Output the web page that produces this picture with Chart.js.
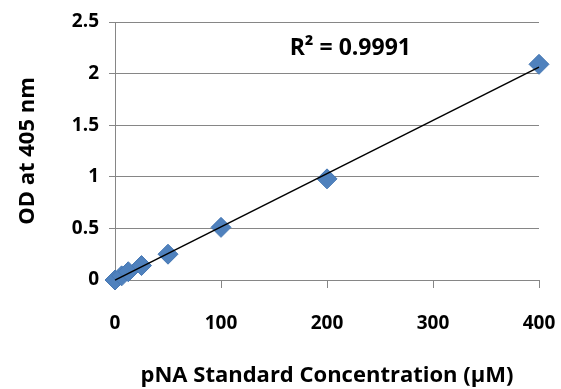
<!DOCTYPE html>
<html>
<head>
<meta charset="utf-8">
<script src="https://cdn.jsdelivr.net/npm/chart.js@4/dist/chart.umd.min.js"></script>
<style>
  html, body { margin: 0; padding: 0; background: #fff; }
  #wrap { width: 561px; height: 389px; }
</style>
</head>
<body>
<div id="wrap"><canvas id="std"></canvas></div>
<script>
// pNA standard curve
const concentrations = [0, 6.25, 12.5, 25, 50, 100, 200, 400];
const odValues = [0, 0.04, 0.08, 0.14, 0.25, 0.51, 0.98, 2.09];
const xTicks = [0, 100, 200, 300, 400];
const yTicks = [0, 0.5, 1, 1.5, 2, 2.5];
const rSquaredLabel = 'R² = 0.9991';

// Least squares fit for the trendline
function linearFit(xs, ys) {
    let n = xs.length, sx = 0, sy = 0, sxy = 0, sxx = 0;
    for (let i = 0; i < n; i++) {
        sx += xs[i]; sy += ys[i];
        sxy += xs[i] * ys[i]; sxx += xs[i] * xs[i];
    }
    let slope = (n * sxy - sx * sy) / (n * sxx - sx * sx);
    let intercept = (sy - slope * sx) / n;
    return { slope, intercept };
}
const fit = linearFit(concentrations, odValues);
const xMin = xTicks[0], xMax = xTicks[xTicks.length - 1];

const fontFamily = '"Open Sans", Lato, sans-serif';
const gridGray = '#868686';

// Writes the R² text inside the plot
const r2Plugin = {
    id: 'r2',
    afterDatasetsDraw(chart) {
        let ctx = chart.ctx;
        let x = chart.scales.x.getPixelForValue(222);
        let y = chart.scales.y.getPixelForValue(2.24);
        ctx.save();
        ctx.font = 'bold 23px ' + fontFamily;
        ctx.fillStyle = '#000';
        ctx.textAlign = 'center';
        ctx.textBaseline = 'middle';
        ctx.fillText(rSquaredLabel, x, y);
        ctx.restore();
    }
};

let ctx = document.getElementById('std').getContext('2d');
let chart = new Chart(ctx, {
    type: 'scatter',
    data: {
        datasets: [
            {
                label: 'OD',
                data: concentrations.map((c, i) => ({ x: c, y: odValues[i] })),
                pointStyle: 'rectRot',
                pointRadius: 10,
                pointHoverRadius: 10,
                backgroundColor: '#4f81bd',
                borderColor: '#4677b3',
                borderWidth: 1,
                clip: false,
                order: 2
            },
            {
                label: 'Linear',
                type: 'line',
                data: [
                    { x: xMin, y: fit.intercept + fit.slope * xMin },
                    { x: xMax, y: fit.intercept + fit.slope * xMax }
                ],
                borderColor: '#000',
                borderWidth: 1.5,
                pointRadius: 0,
                fill: false,
                clip: false,
                order: 1
            }
        ]
    },
    options: {
        responsive: true,
        maintainAspectRatio: false,
        animation: false,
        layout: { padding: { top: 22, right: 22, left: 0, bottom: 0 } },
        plugins: {
            legend: { display: false },
            tooltip: { enabled: false }
        },
        scales: {
            x: {
                type: 'linear',
                min: xMin,
                max: xMax,
                afterBuildTicks: axis => { axis.ticks = xTicks.map(v => ({ value: v })); },
                afterFit: axis => {
                    axis.height = 109;
                    axis.paddingLeft = 0;
                    axis.paddingRight = 0;
                },
                grid: {
                    drawOnChartArea: false,
                    color: gridGray,
                    tickLength: 8
                },
                border: { color: gridGray },
                ticks: {
                    color: '#000',
                    padding: 24,
                    font: { family: fontFamily, size: 19, weight: 'bold' }
                },
                title: {
                    display: true,
                    text: 'pNA Standard Concentration (µM)',
                    color: '#000',
                    padding: { top: 16, bottom: 0 },
                    font: { family: fontFamily, size: 22, weight: 'bold' }
                }
            },
            y: {
                min: yTicks[0],
                max: yTicks[yTicks.length - 1],
                afterBuildTicks: axis => { axis.ticks = yTicks.map(v => ({ value: v })); },
                afterFit: axis => {
                    axis.width = 115;
                    axis.paddingTop = 0;
                    axis.paddingBottom = 0;
                },
                grid: {
                    color: gridGray,
                    tickLength: 6
                },
                border: { color: gridGray },
                ticks: {
                    color: '#000',
                    padding: 10,
                    font: { family: fontFamily, size: 19, weight: 'bold' },
                    callback: v => String(v)
                },
                title: {
                    display: true,
                    text: 'OD at 405 nm',
                    color: '#000',
                    padding: { top: 15, bottom: 0 },
                    font: { family: fontFamily, size: 22, weight: 'bold' }
                }
            }
        }
    },
    plugins: [r2Plugin]
});
</script>
</body>
</html>
